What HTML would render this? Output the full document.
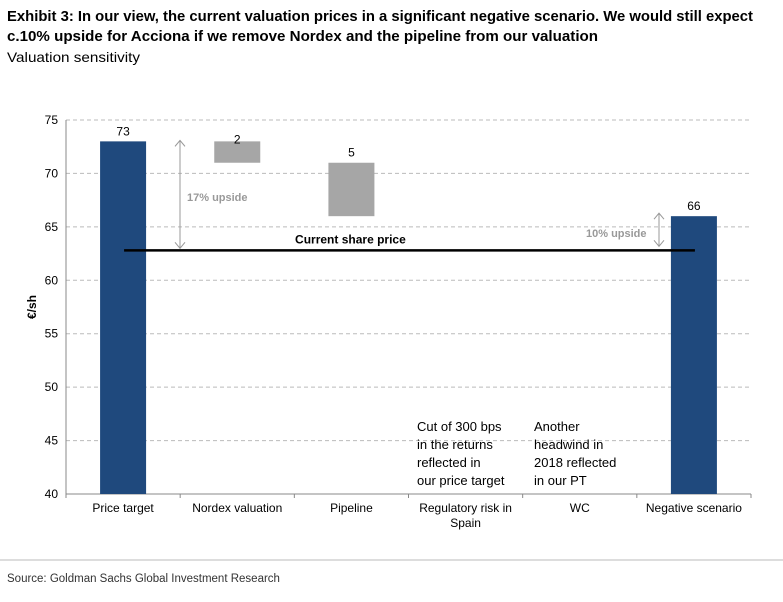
<!DOCTYPE html>
<html><head><meta charset="utf-8"><style>
body{margin:0;background:#fff;width:783px;height:597px;overflow:hidden;font-family:"Liberation Sans",sans-serif}
</style></head><body>
<svg width="783" height="597" viewBox="0 0 783 597" style="font-family:'Liberation Sans',sans-serif">
<text x="7" y="21" font-size="14.5" font-weight="bold" fill="#000" textLength="746" lengthAdjust="spacingAndGlyphs">Exhibit 3: In our view, the current valuation prices in a significant negative scenario. We would still expect</text>
<text x="7" y="41" font-size="14.5" font-weight="bold" fill="#000" textLength="591" lengthAdjust="spacingAndGlyphs">c.10% upside for Acciona if we remove Nordex and the pipeline  from our valuation</text>
<text x="7" y="62" font-size="14" fill="#000" textLength="133" lengthAdjust="spacingAndGlyphs">Valuation sensitivity</text>
<g id="grid"></g>
<g id="marks"></g>
<text transform="translate(36,307) rotate(-90)" font-size="12" font-weight="bold" text-anchor="middle">€/sh</text>
<line x1="0" y1="560" x2="783" y2="560" stroke="#bbb" stroke-width="1"/>
<text x="7" y="582" font-size="11.5" fill="#333">Source: Goldman Sachs Global Investment Research</text>
</svg>
<script>
const categories=["Price target","Nordex valuation","Pipeline","Regulatory risk in|Spain","WC","Negative scenario"];
const barBase=[0,71,66,0,0,0];
const barTop=[73,73,71,0,0,66];
const barLabels=["73","2","5","","","66"];
const barKinds=["total","delta","delta","none","none","total"];
const yTicks=[40,45,50,55,60,65,70,75];
const sharePrice=[62.8];
const NS="http://www.w3.org/2000/svg";
const x0=66,x1=751,yMin=40,yMax=75,py0=494,py1=120;
const band=(x1-x0)/categories.length;
const X=i=>x0+band*(i+0.5);
const Y=v=>py0-(v-yMin)/(yMax-yMin)*(py0-py1);
function mk(tag,attrs,parent){const e=document.createElementNS(NS,tag);for(const k in attrs)e.setAttribute(k,attrs[k]);parent.appendChild(e);return e;}
const grid=document.getElementById('grid'),marks=document.getElementById('marks');
yTicks.forEach(t=>{
  if(t>yMin){const g=mk('line',{x1:x0,x2:x1,y1:Y(t),y2:Y(t),stroke:'#bbb','stroke-dasharray':'4,3'},grid);
  
  }
  const tx=mk('text',{x:x0-8,y:Y(t)+4,'font-size':12,'text-anchor':'end'},grid);tx.textContent=t;
  
  
});
const ax=mk('line',{x1:x0,x2:x0,y1:py1,y2:py0,stroke:'#888'},grid);


const bx=mk('line',{x1:x0,x2:x1,y1:py0,y2:py0,stroke:'#888'},grid);


for(let i=0;i<=categories.length;i++){const tk=mk('line',{x1:x0+band*i,x2:x0+band*i,y1:py0,y2:py0+4,stroke:'#888'},grid);

}
categories.forEach((c,i)=>{
  c.split('|').forEach((ln,j)=>{const t=mk('text',{x:X(i),y:py0+18+j*15,'font-size':12,'text-anchor':'middle'},grid);t.textContent=ln;
  
  });
});
const bw=46;
categories.forEach((c,i)=>{
  if(barKinds[i]==='none')return;
  const lo=barKinds[i]==='total'?yMin:barBase[i];
  const r=mk('rect',{x:X(i)-bw/2,y:Y(barTop[i]),width:bw,height:Y(lo)-Y(barTop[i]),fill:barKinds[i]==='total'?'#1f497d':'#a6a6a6'},marks);
  
  
  const t=mk('text',{x:X(i),y:Y(barTop[i])-(barKinds[i]==='delta'&&i===1?-2:6),'font-size':12,'text-anchor':'middle'},marks);t.textContent=barLabels[i];
  
  
});
const sp=mk('line',{x1:X(0)+1,x2:X(5)+1,y1:Y(sharePrice[0]),y2:Y(sharePrice[0]),stroke:'#000','stroke-width':2.5},marks);


const spl=mk('text',{x:X(2)-1,y:Y(sharePrice[0])-7,'font-size':12,'font-weight':'bold','text-anchor':'middle'},marks);spl.textContent='Current share price';


function arrow(x,ya,yb,name){
  const g=mk('g',{stroke:'#999',fill:'none','stroke-width':1},marks);
  
  
  mk('line',{x1:x,x2:x,y1:ya,y2:yb},g);
  mk('polyline',{points:`${x-5},${ya+6} ${x},${ya} ${x+5},${ya+6}`},g);
  mk('polyline',{points:`${x-5},${yb-6} ${x},${yb} ${x+5},${yb-6}`},g);
}
arrow(180,Y(barTop[0])-1,Y(sharePrice[0])-2,'upside-arrow-17');
const u1=mk('text',{x:187,y:201,'font-size':11,'font-weight':'bold',fill:'#999'},marks);u1.textContent='17% upside';


arrow(659,Y(barTop[5])-3,Y(sharePrice[0])-4,'upside-arrow-10');
const u2=mk('text',{x:586,y:237,'font-size':11,'font-weight':'bold',fill:'#999'},marks);u2.textContent='10% upside';


const notes=[[417,["Cut of 300 bps","in the returns","reflected in","our price target"]],[534,["Another","headwind  in","2018 reflected","in our PT"]]];
notes.forEach(([x,lines],k)=>lines.forEach((l,j)=>{const t=mk('text',{x:x,y:431+j*18,'font-size':13},marks);t.textContent=l;

}));
</script>
</body></html>
